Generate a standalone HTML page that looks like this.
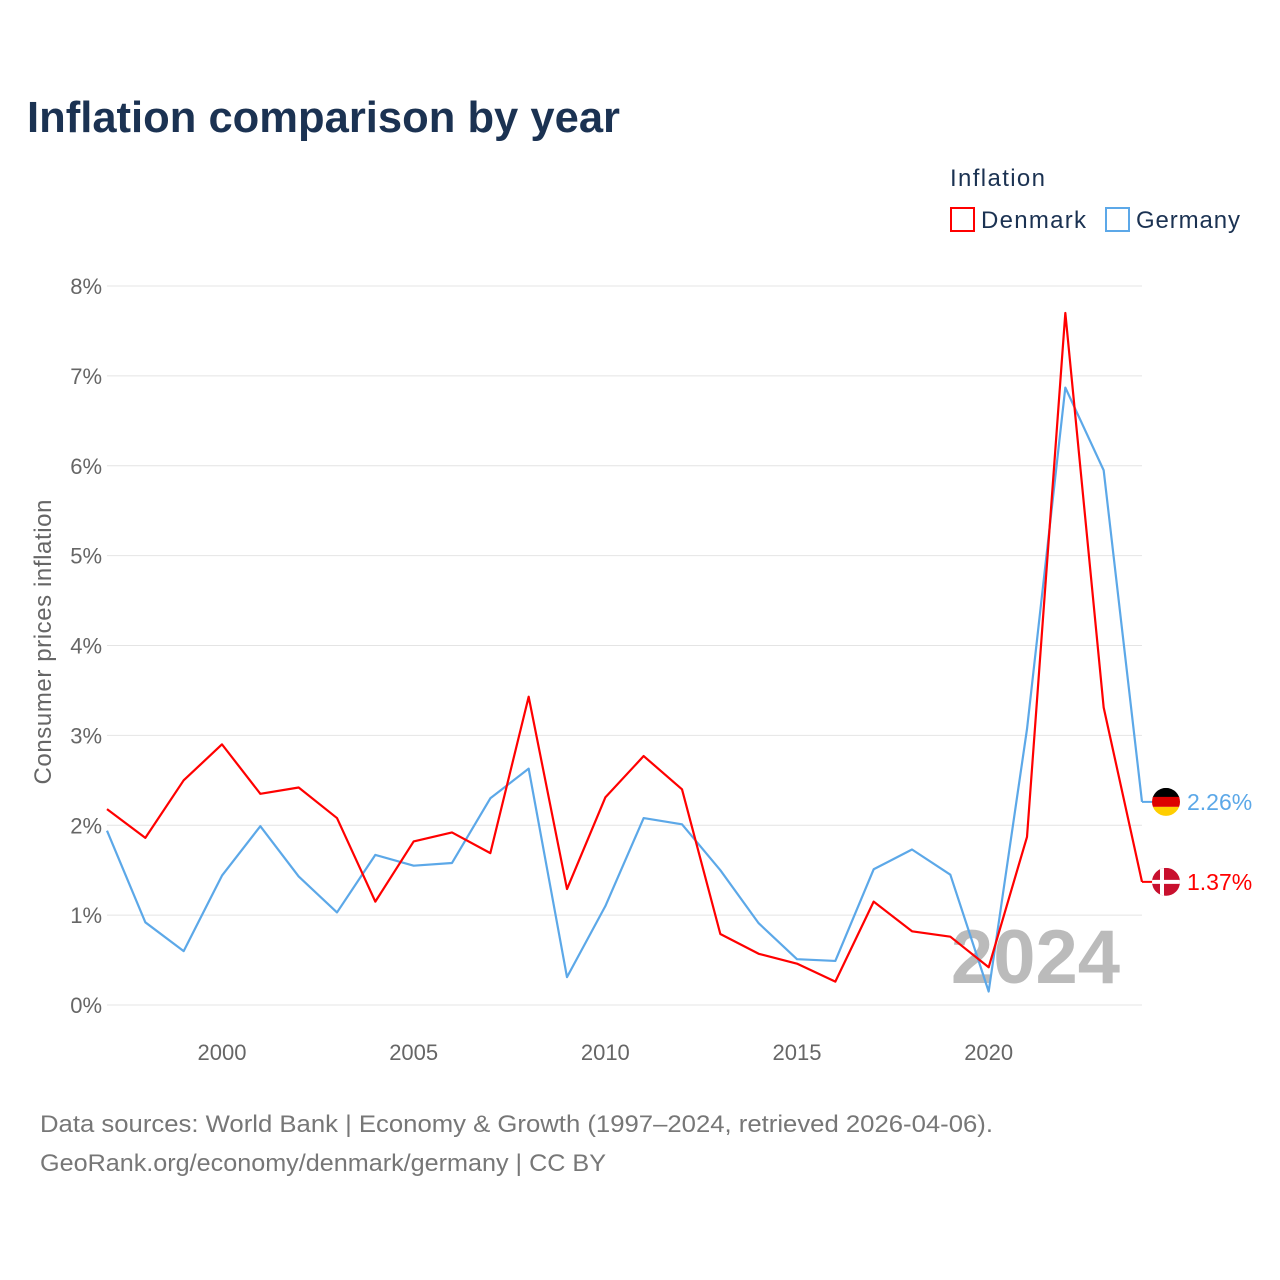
<!DOCTYPE html>
<html><head><meta charset="utf-8"><style>
body{margin:0;background:#fff;font-family:"Liberation Sans",sans-serif}
svg{display:block}
</style></head><body>
<svg width="1280" height="1280" viewBox="0 0 1280 1280" xmlns="http://www.w3.org/2000/svg" id="chart">
<text x="27" y="132" font-size="44" font-weight="bold" fill="#1b3252" textLength="593" lengthAdjust="spacingAndGlyphs">Inflation comparison by year</text>
<text x="950" y="186" font-size="24" fill="#1b3252" textLength="95">Inflation</text>
<g><rect x="951" y="208" width="23" height="23" fill="none" stroke="#ff0000" stroke-width="2"/><text x="981" y="228" font-size="24" fill="#1b3252" textLength="105">Denmark</text></g>
<g><rect x="1106" y="208" width="23" height="23" fill="none" stroke="#5ca8e8" stroke-width="2"/><text x="1136" y="228" font-size="24" fill="#1b3252" textLength="104">Germany</text></g>
<text transform="translate(51,642) rotate(-90)" text-anchor="middle" font-size="24" fill="#666" textLength="285">Consumer prices inflation</text>
<g id="grid"></g><g id="yt"></g><g id="xt"></g>
<text x="1120" y="983" text-anchor="end" font-size="76" font-weight="bold" fill="#bbb">2024</text>
<g id="lines"></g>
<text x="40" y="1132" font-size="24" fill="#777" textLength="953" lengthAdjust="spacingAndGlyphs">Data sources: World Bank | Economy &amp; Growth (1997–2024, retrieved 2026-04-06).</text>
<text x="40" y="1171" font-size="24" fill="#777" textLength="566" lengthAdjust="spacingAndGlyphs">GeoRank.org/economy/denmark/germany | CC BY</text>
</svg>
<script>
const years=[1997,1998,1999,2000,2001,2002,2003,2004,2005,2006,2007,2008,2009,2010,2011,2012,2013,2014,2015,2016,2017,2018,2019,2020,2021,2022,2023,2024];
const denmark=[2.18,1.86,2.50,2.90,2.35,2.42,2.08,1.15,1.82,1.92,1.69,3.43,1.29,2.31,2.77,2.40,0.79,0.57,0.46,0.26,1.15,0.82,0.76,0.42,1.87,7.70,3.31,1.37];
const germany=[1.94,0.92,0.60,1.44,1.99,1.43,1.03,1.67,1.55,1.58,2.30,2.63,0.31,1.10,2.08,2.01,1.50,0.91,0.51,0.49,1.51,1.73,1.45,0.15,3.07,6.87,5.95,2.26];
const yTicks=[0,1,2,3,4,5,6,7,8];
const xTicks=[2000,2005,2010,2015,2020];
const NS="http://www.w3.org/2000/svg";
const X=y=>107+(y-1997)*(1142-107)/27;
const Y=v=>1005-v*(1005-286)/8;
function mk(t,a,p){const e=document.createElementNS(NS,t);for(const k in a)e.setAttribute(k,a[k]);p.appendChild(e);return e;}
const grid=document.getElementById('grid'),yt=document.getElementById('yt'),xt=document.getElementById('xt'),lines=document.getElementById('lines');
yTicks.forEach(v=>{
 const l=mk('line',{x1:107,x2:1142,y1:Y(v),y2:Y(v),stroke:'#e4e4e4','stroke-width':1},grid);
 
 
 const t=mk('text',{x:102,y:Y(v)+8,'text-anchor':'end','font-size':22,fill:'#666'},yt);
 t.textContent=v+'%';
 
 
});
xTicks.forEach(v=>{
 const t=mk('text',{x:X(v),y:1060,'text-anchor':'middle','font-size':22,fill:'#666'},xt);
 t.textContent=v;
 
 
});
function series(data,color,name){
 const pts=data.map((v,i)=>X(years[i])+','+Y(v)).join(' ');
 const p=mk('polyline',{points:pts,fill:'none',stroke:color,'stroke-width':2.2,'stroke-linejoin':'round'},lines);
 
 
 const last=data[data.length-1],y=Y(last),x=X(years[years.length-1]);
 const s=mk('line',{x1:x,x2:x+10,y1:y,y2:y,stroke:color,'stroke-width':2},lines);
 
 
 const g=mk('g',{},lines);
 
 
 if(name==='germany'){
  mk('clipPath',{id:'cg'},g);mk('circle',{cx:1166,cy:y,r:14},g.lastChild);
  const cg=mk('g',{'clip-path':'url(#cg)'},g);
  mk('rect',{x:1152,y:y-14,width:28,height:10,fill:'#000'},cg);
  mk('rect',{x:1152,y:y-5,width:28,height:10,fill:'#dd0000'},cg);
  mk('rect',{x:1152,y:y+5,width:28,height:10,fill:'#ffce00'},cg);
 } else {
  mk('clipPath',{id:'cd'},g);mk('circle',{cx:1166,cy:y,r:14},g.lastChild);
  const cd=mk('g',{'clip-path':'url(#cd)'},g);
  mk('rect',{x:1152,y:y-14,width:28,height:28,fill:'#c8102e'},cd);
  mk('rect',{x:1160,y:y-14,width:4,height:28,fill:'#fff'},cd);
  mk('rect',{x:1152,y:y-2,width:28,height:4,fill:'#fff'},cd);
 }
 const t=mk('text',{x:1187,y:y+8,'font-size':23,fill:color},lines);
 t.textContent=last.toFixed(2)+'%';
 
 
}
series(germany,'#5ca8e8','germany');
series(denmark,'#ff0000','denmark');
</script>
</body></html>
